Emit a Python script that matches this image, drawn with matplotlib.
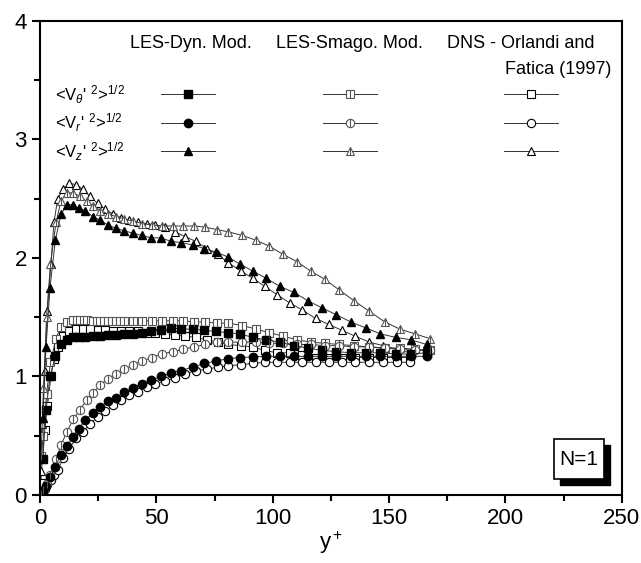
import numpy as np
import matplotlib
matplotlib.use("Agg")
import matplotlib.pyplot as plt
from matplotlib.patches import Rectangle

plt.rcParams['font.family'] = ['Liberation Sans', 'DejaVu Sans']
plt.rcParams['mathtext.fontset'] = 'custom'
plt.rcParams['mathtext.rm'] = 'Liberation Sans'
plt.rcParams['mathtext.it'] = 'Liberation Sans:italic'

# ---- LES dynamic model
x_dyn = [1.2, 2.6, 4.3, 6.6, 9.0, 11.6, 14.0, 16.6, 19.5, 22.6, 25.8, 29.1, 32.6, 36.2, 39.8,
         43.8, 47.7, 52.0, 56.3, 60.8, 65.6, 70.6, 75.6, 80.6, 85.8, 91.4, 97.1, 103.1, 109.1,
         115.0, 121.1, 127.4, 133.6, 140.0, 146.3, 152.8, 159.4, 166.1]
dyn_th = [0.30, 0.72, 1.00, 1.17, 1.27, 1.31, 1.33, 1.33, 1.33, 1.34, 1.34, 1.35, 1.35, 1.36, 1.36,
          1.37, 1.38, 1.39, 1.41, 1.40, 1.40, 1.39, 1.38, 1.37, 1.36, 1.33, 1.31, 1.29, 1.26,
          1.24, 1.22, 1.21, 1.20, 1.20, 1.20, 1.19, 1.19, 1.20]
dyn_r = [0.03, 0.08, 0.15, 0.24, 0.34, 0.41, 0.49, 0.56, 0.63, 0.69, 0.74, 0.79, 0.82, 0.87, 0.90,
         0.94, 0.97, 1.00, 1.03, 1.05, 1.08, 1.11, 1.13, 1.15, 1.16, 1.165, 1.17, 1.17, 1.17,
         1.17, 1.17, 1.17, 1.17, 1.17, 1.17, 1.17, 1.17, 1.17]
dyn_z = [0.65, 1.25, 1.75, 2.15, 2.37, 2.45, 2.45, 2.42, 2.40, 2.35, 2.32, 2.28, 2.25, 2.23, 2.21,
         2.19, 2.17, 2.17, 2.14, 2.13, 2.11, 2.08, 2.05, 2.01, 1.95, 1.89, 1.83, 1.76, 1.71,
         1.64, 1.58, 1.52, 1.46, 1.41, 1.36, 1.33, 1.31, 1.27]

# ---- LES Smagorinsky model
x_sma = [0.5, 1.5, 2.8, 4.5, 6.9, 9.0, 11.5, 14.3, 17.2, 20.0, 22.9, 25.9, 29.2, 32.7, 36.3,
         40.1, 44.0, 48.1, 52.4, 57.0, 61.6, 66.3, 71.0, 76.0, 81.0, 87.0, 92.8, 98.5, 104.5,
         110.3, 116.3, 122.4, 128.6, 134.9, 141.5, 148.2, 154.6, 161.1, 167.5]
sma_th = [0.33, 0.50, 0.85, 1.12, 1.32, 1.42, 1.46, 1.48, 1.48, 1.48, 1.47, 1.47, 1.47, 1.47, 1.47,
          1.47, 1.47, 1.47, 1.47, 1.47, 1.47, 1.46, 1.46, 1.45, 1.45, 1.43, 1.40, 1.37, 1.34,
          1.31, 1.29, 1.28, 1.27, 1.26, 1.25, 1.24, 1.24, 1.23, 1.22]
sma_r = [0.01, 0.04, 0.09, 0.17, 0.30, 0.42, 0.53, 0.64, 0.72, 0.80, 0.86, 0.93, 0.98, 1.02, 1.06,
         1.10, 1.13, 1.16, 1.19, 1.21, 1.23, 1.25, 1.27, 1.29, 1.29, 1.29, 1.29, 1.28, 1.28,
         1.27, 1.27, 1.26, 1.26, 1.25, 1.25, 1.24, 1.23, 1.22, 1.22]
sma_z = [0.35, 0.90, 1.50, 1.95, 2.30, 2.48, 2.55, 2.55, 2.52, 2.48, 2.44, 2.40, 2.37, 2.35, 2.33,
         2.31, 2.29, 2.28, 2.27, 2.27, 2.27, 2.27, 2.26, 2.24, 2.22, 2.19, 2.15, 2.10, 2.03,
         1.97, 1.89, 1.82, 1.73, 1.64, 1.55, 1.46, 1.40, 1.36, 1.32]

# ---- DNS Orlandi and Fatica (1997)
x_dns = [0.3, 1.0, 2.0, 3.2, 4.7, 6.0, 7.6, 10.0, 12.6, 15.5, 18.3, 21.5, 24.8, 28.1, 31.5,
         34.8, 38.4, 42.0, 45.8, 49.5, 53.8, 58.1, 62.4, 67.0, 71.6, 76.3, 81.0, 86.2, 91.4,
         96.6, 101.9, 107.4, 112.8, 118.4, 124.0, 129.7, 135.5, 141.5, 147.5, 153.2, 158.9]
dns_th = [0.10, 0.30, 0.55, 0.75, 1.00, 1.15, 1.25, 1.34, 1.38, 1.40, 1.40, 1.40, 1.39, 1.39, 1.38,
          1.38, 1.38, 1.38, 1.37, 1.37, 1.36, 1.35, 1.34, 1.33, 1.31, 1.29, 1.27, 1.26, 1.25,
          1.22, 1.20, 1.20, 1.18, 1.16, 1.16, 1.16, 1.16, 1.16, 1.16, 1.16, 1.16]
dns_r = [0.01, 0.02, 0.05, 0.09, 0.13, 0.17, 0.21, 0.31, 0.39, 0.48, 0.53, 0.60, 0.66, 0.71, 0.76,
         0.80, 0.84, 0.87, 0.91, 0.94, 0.96, 0.99, 1.02, 1.05, 1.06, 1.08, 1.09, 1.10, 1.11,
         1.12, 1.12, 1.12, 1.12, 1.12, 1.12, 1.12, 1.12, 1.12, 1.12, 1.12, 1.12]
dns_z = [0.20, 0.60, 1.05, 1.55, 1.95, 2.30, 2.50, 2.58, 2.63, 2.62, 2.58, 2.52, 2.46, 2.41, 2.37,
         2.34, 2.32, 2.30, 2.29, 2.28, 2.26, 2.22, 2.18, 2.14, 2.08, 2.03, 1.96, 1.89, 1.83,
         1.76, 1.69, 1.62, 1.56, 1.49, 1.44, 1.39, 1.34, 1.29, 1.26, 1.23, 1.20]

row_labels = [r"<V$_\theta$' $^2$>$^{1/2}$", r"<V$_r$' $^2$>$^{1/2}$", r"<V$_z$' $^2$>$^{1/2}$"]
headers = ["LES-Dyn. Mod.", "LES-Smago. Mod.", "DNS - Orlandi and", "Fatica (1997)"]

fig = plt.figure(figsize=(6.41, 5.63), dpi=100)
ax = fig.add_axes([0.0624, 0.1208, 0.9076, 0.8419])

markers = ['s', 'o', '^']
ms = 6
line_kw = dict(color='#333333', lw=0.7, zorder=2)

def dyn(ax, x, y, m):
    ax.plot(x, y, marker=m, ms=ms, mfc='black', mec='black', **line_kw)

def sma(ax, x, y, m):
    ax.plot(x, y, marker=m, ms=ms, mfc='white', mec='#555555', mew=0.8, **line_kw)
    ax.plot(x, y, ls='none', marker='|', ms=ms, mec='#555555', mew=0.8, zorder=3)

def dns(ax, x, y, m):
    ax.plot(x, y, marker=m, ms=ms, mfc='white', mec='black', mew=0.8, **line_kw)

for y, m in zip([dns_th, dns_r, dns_z], markers):
    dns(ax, x_dns, y, m)
for y, m in zip([sma_th, sma_r, sma_z], markers):
    sma(ax, x_sma, y, m)
for y, m in zip([dyn_th, dyn_r, dyn_z], markers):
    dyn(ax, x_dyn, y, m)

# custom legend
row_y = [3.38, 3.14, 2.90]
cols = [(51.9, 75.2, dyn), (121.6, 144.8, sma), (199.3, 222.5, dns)]
for ly, m, lab in zip(row_y, markers, row_labels):
    ax.text(6.5, ly, lab, fontsize=12, va='center', ha='left')
    for x0, x1, fn in cols:
        ax.plot([x0, x1], [ly, ly], color='#333333', lw=0.7)
        fn(ax, [(x0 + x1) / 2], [ly], m)

ax.text(65, 3.81, headers[0], fontsize=13, ha='center', va='center')
ax.text(133, 3.81, headers[1], fontsize=13, ha='center', va='center')
ax.text(174.8, 3.81, headers[2], fontsize=13, ha='left', va='center')
ax.text(199.7, 3.59, headers[3], fontsize=13, ha='left', va='center')

# N=1 box with shadow
ax.add_patch(Rectangle((223.5, 0.085), 21.5, 0.335, facecolor='black', edgecolor='black', zorder=5))
ax.add_patch(Rectangle((220.8, 0.135), 21.5, 0.335, facecolor='white', edgecolor='black', lw=1.2, zorder=6))
ax.text(231.5, 0.30, "N=1", fontsize=15, ha='center', va='center', zorder=7)

ax.set_xlim(0, 250)
ax.set_ylim(0, 4)
ax.set_xticks([0, 50, 100, 150, 200, 250])
ax.set_xticks([25, 75, 125, 175, 225], minor=True)
ax.set_yticks([0, 1, 2, 3, 4])
ax.set_yticks([0.5, 1.5, 2.5, 3.5], minor=True)
ax.tick_params(which='major', direction='out', length=6, width=1.5, labelsize=16, top=False, right=False)
ax.tick_params(which='minor', direction='out', length=4, width=1.5, top=False, right=False)
for s in ax.spines.values():
    s.set_linewidth(1.5)
ax.set_xlabel("y$^+$", fontsize=16, labelpad=0)

fig.savefig("out.png", dpi=100)
